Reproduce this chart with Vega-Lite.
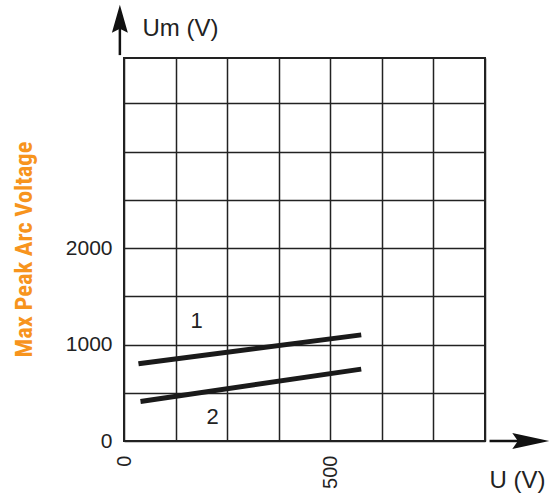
{
  "$schema": "https://vega.github.io/schema/vega-lite/v6.json",
  "width": 361,
  "height": 383,
  "autosize": {"type": "none"},
  "padding": {"left": 124, "top": 58, "right": 65, "bottom": 58},
  "background": "white",
  "title": {"text": "Max Peak Arc Voltage", "orient": "left", "anchor": "middle", "frame": "group", "offset": 28, "fontSize": 24.5, "font": "Liberation Sans Narrow, Roboto Condensed, Liberation Sans", "fontWeight": "bold", "color": "#F7941D"},
  "config": {
    "view": {"stroke": "#222", "strokeWidth": 2},
    "axis": {"labelFont": "Liberation Sans", "titleFont": "Liberation Sans", "labelColor": "#222", "titleColor": "#222"}
  },
  "datasets": {
    "curves": [
      {"curve": "1", "U": 35, "Um": 800},
      {"curve": "1", "U": 575, "Um": 1100},
      {"curve": "2", "U": 40, "Um": 410},
      {"curve": "2", "U": 575, "Um": 745}
    ],
    "curvelabels": [
      {"label": "1", "U": 176, "Um": 1244},
      {"label": "2", "U": 215, "Um": 249}
    ],
    "arrows": [
      {"axis": "Um", "U": -10, "U2": -10, "Um": 4000, "Um2": 4420},
      {"axis": "U", "U": 886, "U2": 1000, "Um": 0, "Um2": 0}
    ],
    "heads": [
      {"axis": "Um", "U": -10, "Um": 4376},
      {"axis": "U", "U": 986, "Um": 0}
    ]
  },
  "layer": [
    {
      "data": {"name": "curves"},
      "mark": {"type": "line", "strokeWidth": 5, "color": "#1a1a1a", "strokeCap": "butt"},
      "encoding": {
        "x": {
          "field": "U", "type": "quantitative",
          "scale": {"domain": [0, 875], "nice": false, "zero": false},
          "axis": {
            "values": [0, 125, 250, 375, 500, 625, 750, 875],
            "format": "d",
            "labelExpr": "datum.value == 0 || datum.value == 500 ? datum.label : ''",
            "labelAngle": -90, "labelAlign": "right", "labelBaseline": "middle",
            "labelPadding": 14, "labelFontSize": 20, "labelOverlap": false, "labelFlush": false,
            "ticks": false, "domain": false,
            "grid": true, "gridColor": "#222", "gridWidth": 1.5, "gridOpacity": 1,
            "title": "U (V)", "titleX": 393, "titleY": 46, "titleAlign": "center", "titleBaseline": "alphabetic",
            "titleFontSize": 24, "titleFontWeight": "normal"
          }
        },
        "y": {
          "field": "Um", "type": "quantitative",
          "scale": {"domain": [0, 3970], "nice": false, "zero": false},
          "axis": {
            "values": [0, 500, 1000, 1500, 2000, 2500, 3000, 3500],
            "format": "d",
            "labelExpr": "datum.value == 0 || datum.value == 1000 || datum.value == 2000 ? datum.label : ''",
            "labelPadding": 12, "labelFontSize": 21, "labelOverlap": false, "labelFlush": false,
            "ticks": false, "domain": false,
            "grid": true, "gridColor": "#222", "gridWidth": 1.5, "gridOpacity": 1,
            "title": "Um (V)", "titleX": 18, "titleY": -23, "titleAngle": 0,
            "titleAlign": "left", "titleBaseline": "alphabetic",
            "titleFontSize": 24, "titleFontWeight": "normal"
          }
        },
        "detail": {"field": "curve", "type": "nominal"}
      }
    },
    {
      "data": {"name": "curvelabels"},
      "mark": {"type": "text", "fontSize": 22, "font": "Liberation Sans", "color": "#222", "align": "center", "baseline": "middle"},
      "encoding": {
        "x": {"field": "U", "type": "quantitative"},
        "y": {"field": "Um", "type": "quantitative"},
        "text": {"field": "label"}
      }
    },
    {
      "data": {"name": "arrows"},
      "mark": {"type": "rule", "strokeWidth": 2.5, "color": "#111"},
      "encoding": {
        "x": {"field": "U", "type": "quantitative"},
        "x2": {"field": "U2"},
        "y": {"field": "Um", "type": "quantitative"},
        "y2": {"field": "Um2"}
      }
    },
    {
      "data": {"name": "heads"},
      "transform": [{"filter": "datum.axis == 'Um'"}],
      "mark": {"type": "point", "shape": "M0,-1L0.57,1L0,0.7L-0.57,1Z", "size": 784, "filled": true, "color": "#111", "opacity": 1},
      "encoding": {
        "x": {"field": "U", "type": "quantitative"},
        "y": {"field": "Um", "type": "quantitative"}
      }
    },
    {
      "data": {"name": "heads"},
      "transform": [{"filter": "datum.axis == 'U'"}],
      "mark": {"type": "point", "shape": "M1,0L-1,-0.43L-0.7,0L-1,0.43Z", "size": 1369, "filled": true, "color": "#111", "opacity": 1},
      "encoding": {
        "x": {"field": "U", "type": "quantitative"},
        "y": {"field": "Um", "type": "quantitative"}
      }
    }
  ]
}
